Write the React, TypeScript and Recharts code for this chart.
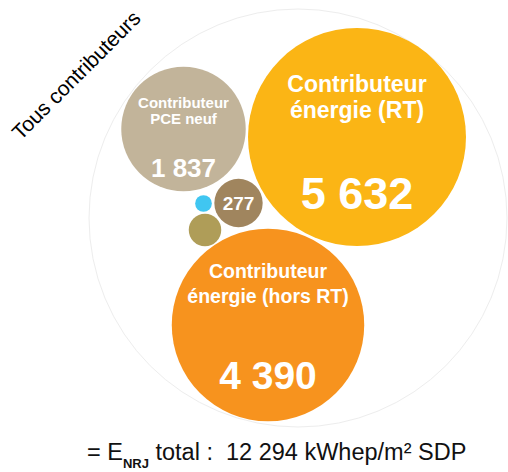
import React from 'react';
import { ScatterChart, Scatter, XAxis, YAxis, ZAxis, Cell, ReferenceDot } from 'recharts';

// bubble data (layout space 0..508 x 0..472, y downwards)
const contributors = [
  'Contributeur énergie (RT)',
  'Contributeur énergie (hors RT)',
  'Contributeur PCE neuf',
  'Autre 1',
  'Autre 2',
  'Autre 3',
];
const titleLines = [
  ['Contributeur', 'énergie (RT)'],
  ['Contributeur', 'énergie (hors RT)'],
  ['Contributeur', 'PCE neuf'],
  [],
  [],
  [],
];
const values = [5632, 4390, 1837, 277, 125, 33];
const showValue = [true, true, true, true, false, false];
const posX = [357, 268, 183.5, 238.5, 205, 203.5];
const posY = [137, 325, 129, 203, 230, 203.5];

const totalLabel = 'Tous contributeurs';
const totalValue = '12 294';
const allX = 298;
const allY = 218;

const COLORS = ['#FBB515', '#F7931E', '#C2B49A', '#A0855E', '#AF9D58', '#40C6F1'];

// label styles per bubble: title font, title line offsets, value font, value offset
const LABEL_STYLE = [
  { tSize: 23, tDy: [-45, -19], vSize: 45, vDy: 72 },
  { tSize: 19.5, tDy: [-47, -22], vSize: 39, vDy: 64 },
  { tSize: 15, tDy: [-21, -5], vSize: 26, vDy: 48 },
  { tSize: 0, tDy: [], vSize: 19, vDy: 7 },
  { tSize: 0, tDy: [], vSize: 0, vDy: 0 },
  { tSize: 0, tDy: [], vSize: 0, vDy: 0 },
];

const FONT = '"Liberation Sans", Arial, sans-serif';

const fmt = (n: number) => String(n).replace(/\B(?=(\d{3})+(?!\d))/g, ' ');

const data = values.map((v, i) => ({
  name: contributors[i],
  x: posX[i],
  y: posY[i],
  z: v,
  idx: i,
}));

const Bubble = (props: any) => {
  const { cx, cy, payload, fill } = props;
  const r = props.width ? props.width / 2 : Math.sqrt((props.size || 0) / Math.PI);
  const i = payload.idx;
  const st = LABEL_STYLE[i];
  return (
    <g>
      <circle cx={cx} cy={cy} r={r} fill={fill} />
      {titleLines[i].map((line, k) => (
        <text
          key={k}
          x={cx}
          y={cy + st.tDy[k]}
          textAnchor="middle"
          fill="#fff"
          fontFamily={FONT}
          fontWeight="bold"
          fontSize={st.tSize}
        >
          {line}
        </text>
      ))}
      {showValue[i] && (
        <text
          x={cx}
          y={cy + st.vDy}
          textAnchor="middle"
          fill="#fff"
          fontFamily={FONT}
          fontWeight="bold"
          fontSize={st.vSize}
        >
          {fmt(values[i])}
        </text>
      )}
    </g>
  );
};

export default function App() {
  return (
    <div style={{ position: 'absolute', left: 0, top: 0, width: 508, height: 472, background: '#fff' }}>
      <ScatterChart width={508} height={472} margin={{ top: 0, right: 0, bottom: 0, left: 0 }}>
        <XAxis type="number" dataKey="x" domain={[0, 508]} hide />
        <YAxis type="number" dataKey="y" domain={[0, 472]} reversed hide />
        <ZAxis type="number" dataKey="z" domain={[0, 6000]} range={[0, 39760]} />
        <ReferenceDot x={allX} y={allY} r={209} fill="none" stroke="#ededed" strokeWidth={1} />
        <Scatter data={data} shape={Bubble} isAnimationActive={false}>
          {data.map((d, i) => (
            <Cell key={d.name} fill={COLORS[i]} />
          ))}
        </Scatter>
        <text
          x={76}
          y={75}
          textAnchor="middle"
          dominantBaseline="central"
          transform="rotate(-45 76 75)"
          fontFamily={FONT}
          fontSize={21}
          fill="#000"
        >
          {totalLabel}
        </text>
        <text x={87} y={460} fontFamily={FONT} fontSize={23.5} fill="#111" style={{ whiteSpace: 'pre' }}>
          <tspan>= E</tspan>
          <tspan fontSize={13} fontWeight="bold" dy={8}>NRJ</tspan>
          <tspan dy={-8}>{` total :  ${totalValue} kWhep/m² SDP`}</tspan>
        </text>
      </ScatterChart>
    </div>
  );
}
